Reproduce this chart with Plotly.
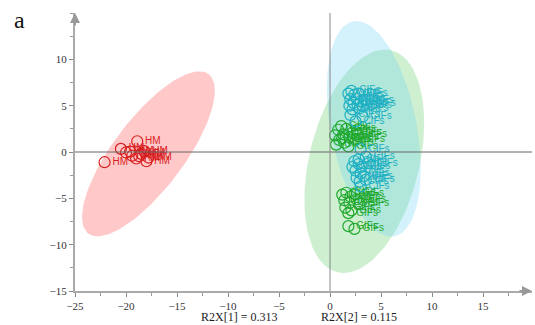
import numpy as np
import plotly.graph_objects as go

# ---- data (PCA scores t[1], t[2]) ----
hm_x = [-18.9, -20.5, -22.1, -20.0, -19.4, -18.2, -18.0, -18.7, -19.0, -18.5, -17.8, -19.6]
hm_y = [1.16, 0.34, -1.1, -0.05, -0.4, 0.1, -1.0, -0.45, -0.7, -0.2, -0.6, 0.05]

cif_x = [1.8, 2.1, 2.4, 2.0, 2.3, 1.9, 2.2, 2.6, 2.8, 3.0, 3.2, 2.9, 3.4, 3.6, 2.7,
         2.5, 2.0, 3.2, 3.0, 3.5, 2.8,
         2.4, 2.8, 3.1, 2.5, 3.0, 2.6, 3.3, 2.9, 3.5, 3.0, 3.8, 2.2]
cif_y = [6.3, 6.6, 6.2, 5.7, 5.3, 5.0, 4.6, 5.8, 6.3, 5.5, 5.0, 4.7, 5.6, 5.2, 5.1,
         3.3, 4.0, 3.8, 0.3, -0.5, -0.8,
         -1.0, -1.3, -1.6, -2.0, -2.3, -2.8, -2.6, -3.2, -3.0, -3.7, -1.2, -1.6]

gif_x = [0.5, 0.8, 1.1, 0.9, 1.3, 1.6, 1.4, 1.9, 2.2, 2.5, 0.6, 1.8, 2.7, 1.2,
         1.2, 1.6, 2.0, 2.4, 1.4, 1.9, 2.6, 1.5, 2.1, 1.8, 2.9,
         1.8, 2.4]
gif_y = [1.8, 2.4, 2.8, 1.3, 1.9, 2.5, 1.0, 1.6, 2.1, 1.3, 0.8, 0.6, 1.9, 1.5,
         -4.6, -4.4, -4.8, -4.5, -5.2, -5.5, -5.1, -6.0, -6.3, -6.6, -5.6,
         -8.0, -8.3]

# confidence ellipses: centre and two half-axis vectors (data units)
ell_hm = dict(c=(-17.8, -0.2), u=(5.9, 8.6), v=(-2.75, 2.3))
ell_cif = dict(c=(4.29, 2.50), u=(2.01, -11.6), v=(4.14, 0.86))
ell_gif = dict(c=(3.36, -1.0), u=(2.65, 11.97), v=(5.24, -1.41))

x_range = [-25, 19.8]
y_range = [-15, 15]
x_ticks = [-25, -20, -15, -10, -5, 0, 5, 10, 15]
y_ticks = [-15, -10, -5, 0, 5, 10]
r2x_1 = "R2X[1] = 0.313"
r2x_2 = "R2X[2] = 0.115"

SERIF = "Liberation Serif, Times New Roman, serif"
SANS = "Liberation Sans, Arial, sans-serif"


def ellipse(e):
    t = np.linspace(0, 2 * np.pi, 121)
    cx, cy = e["c"]
    ux, uy = e["u"]
    vx, vy = e["v"]
    return cx + ux * np.cos(t) + vx * np.sin(t), cy + uy * np.cos(t) + vy * np.sin(t)


fig = go.Figure()
for e, fc in [(ell_hm, "rgba(255,100,100,0.35)"),
              (ell_gif, "rgba(80,200,90,0.28)"),
              (ell_cif, "rgba(100,210,240,0.28)")]:
    ex, ey = ellipse(e)
    fig.add_trace(go.Scatter(x=ex, y=ey, mode="lines", fill="toself",
                             fillcolor=fc, line=dict(width=0), hoverinfo="skip"))

for xs, ys, lab, col in [(hm_x, hm_y, "HM", "#d81e1e"),
                         (gif_x, gif_y, "GIFs", "#1fa82e"),
                         (cif_x, cif_y, "CIFs", "#1fb0c4")]:
    fig.add_trace(go.Scatter(
        x=xs, y=ys, mode="markers+text", text=[lab] * len(xs),
        textposition="middle right",
        textfont=dict(family=SANS, size=10, color=col),
        marker=dict(symbol="circle-open", size=11, color=col, line=dict(width=1.2, color=col)),
        cliponaxis=False))

# zero lines above fills
fig.add_shape(type="line", xref="paper", x0=0, x1=1, yref="y", y0=0, y1=0,
              line=dict(color="#666", width=1), layer="above")
fig.add_shape(type="line", xref="x", x0=0, x1=0, yref="paper", y0=0, y1=1,
              line=dict(color="#888", width=1), layer="above")

axis_common = dict(showgrid=False, zeroline=False, showline=True, linecolor="#aaa",
                   linewidth=2, ticks="outside", ticklen=4, tickcolor="#888",
                   tickfont=dict(family=SERIF, size=11, color="#333"),
                   layer="above traces",
                   minor=dict(ticks="outside", ticklen=3, tickcolor="#999", dtick=2.5))
fig.update_xaxes(range=x_range, tickmode="array", tickvals=x_ticks, **axis_common)
fig.update_yaxes(range=y_range, tickmode="array", tickvals=y_ticks, **axis_common)

# arrow heads
fig.add_annotation(x=x_range[1], y=y_range[0], xref="x", yref="y", ax=-14, ay=0,
                   showarrow=True, arrowhead=2, arrowsize=1, arrowwidth=2,
                   arrowcolor="#999", text="")
fig.add_annotation(x=x_range[0], y=y_range[1], xref="x", yref="y", ax=0, ay=14,
                   showarrow=True, arrowhead=2, arrowsize=1, arrowwidth=2,
                   arrowcolor="#999", text="")

fig.add_annotation(x=-8.9, y=0, xref="x", yref="paper", yshift=-17, text=r2x_1,
                   showarrow=False, font=dict(family=SERIF, size=12, color="#222"),
                   xanchor="center", yanchor="top")
fig.add_annotation(x=2.8, y=0, xref="x", yref="paper", yshift=-17, text=r2x_2,
                   showarrow=False, font=dict(family=SERIF, size=12, color="#222"),
                   xanchor="center", yanchor="top")
fig.add_annotation(x=-0.1225, y=1.0, xref="paper", yref="paper", yshift=-7, text="a",
                   showarrow=False, font=dict(family=SERIF, size=24, color="#111"),
                   xanchor="center", yanchor="middle")

fig.update_layout(width=535, height=325, margin=dict(l=75, r=3, t=13, b=34),
                  paper_bgcolor="white", plot_bgcolor="white", showlegend=False,
                  hovermode=False)

fig.write_html("out.html", config={"displayModeBar": False},
               post_script="document.body.style.margin='0px';")
